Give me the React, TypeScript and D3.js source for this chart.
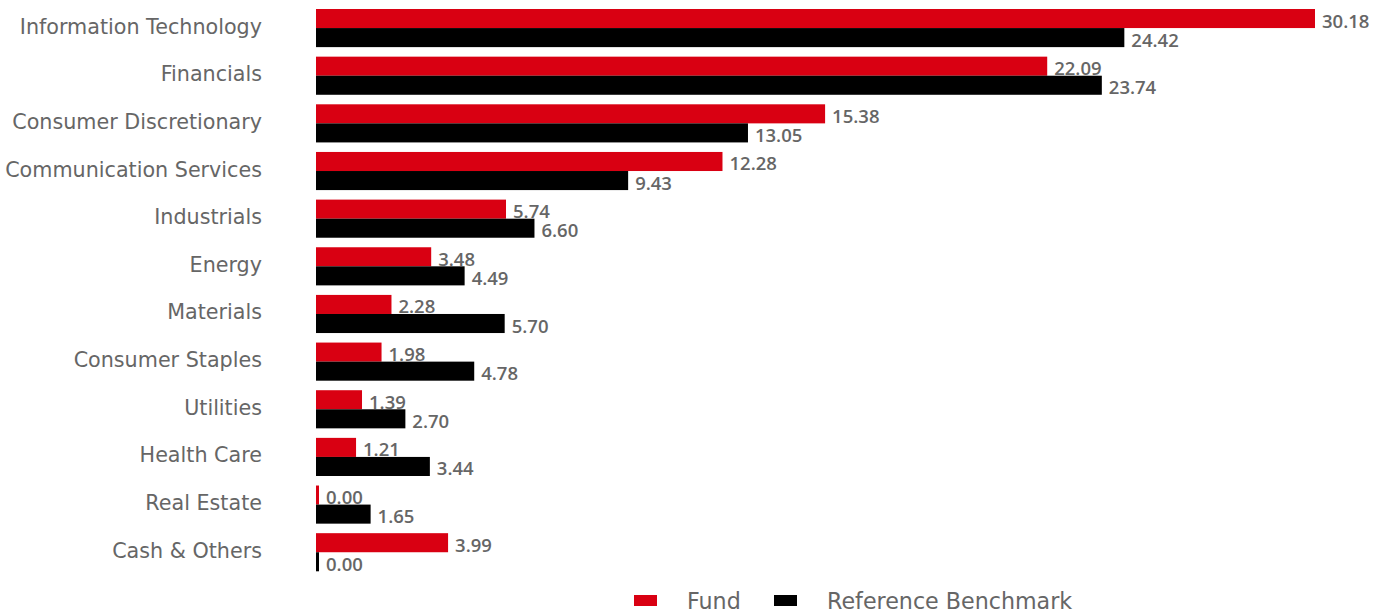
import React from "react";
import * as d3 from "d3";

const categories = [
  "Information Technology",
  "Financials",
  "Consumer Discretionary",
  "Communication Services",
  "Industrials",
  "Energy",
  "Materials",
  "Consumer Staples",
  "Utilities",
  "Health Care",
  "Real Estate",
  "Cash & Others",
];
const fundValues = [30.18, 22.09, 15.38, 12.28, 5.74, 3.48, 2.28, 1.98, 1.39, 1.21, 0.0, 3.99];
const benchValues = [24.42, 23.74, 13.05, 9.43, 6.6, 4.49, 5.7, 4.78, 2.7, 3.44, 1.65, 0.0];
const seriesNames = ["Fund", "Reference Benchmark"];
const seriesColors = ["#d90012", "#000000"];

const W = 1382;
const H = 614;
const FONT = "'DejaVu Sans', sans-serif";
const VFONT = "'Open Sans', sans-serif";

export default function App() {
  const x = d3.scaleLinear().domain([0, 30.18]).range([316, 1315]);
  const y = d3.scaleBand<string>().domain(categories).range([9, 571.3]).paddingInner(0.2).paddingOuter(0);
  const sub = d3.scaleBand<number>().domain([0, 1]).range([0, y.bandwidth()]).padding(0);
  const minW = 3;
  const series = [fundValues, benchValues];

  return (
    <svg width={W} height={H} style={{ position: "absolute", left: 0, top: 0, background: "#fff" }}>
      {categories.map((c, i) => {
        const y0 = y(c)!;
        return (
          <g key={c}>
            <text
              x={262}
              y={y0 + y.bandwidth() / 2 - 1.5}
              textAnchor="end"
              dominantBaseline="central"
              fontFamily={FONT}
              fontSize={20.7}
              fill="#666"
            >
              {c}
            </text>
            {series.map((vals, s) => {
              const v = vals[i];
              const w = Math.max(minW, x(v) - x(0));
              const by = y0 + sub(s)!;
              return (
                <g key={s}>
                  <rect x={x(0)} y={by} width={w} height={sub.bandwidth()} fill={seriesColors[s]} />
                  <text
                    x={x(0) + w + 7}
                    y={by + sub.bandwidth() / 2 + 1.5}
                    dominantBaseline="central"
                    fontFamily={VFONT}
                    fontWeight={600}
                    fontSize={18.5}
                    fill="#666"
                  >
                    {v.toFixed(2)}
                  </text>
                </g>
              );
            })}
          </g>
        );
      })}
      <g>
        <rect x={634} y={595} width={23} height={11} fill={seriesColors[0]} />
        <text x={687} y={601} dominantBaseline="central" fontFamily={FONT} fontSize={22.2} fill="#666">
          {seriesNames[0]}
        </text>
        <rect x={774} y={595} width={23} height={11} fill={seriesColors[1]} />
        <text x={827} y={601} dominantBaseline="central" fontFamily={FONT} fontSize={22.2} fill="#666">
          {seriesNames[1]}
        </text>
      </g>
    </svg>
  );
}
